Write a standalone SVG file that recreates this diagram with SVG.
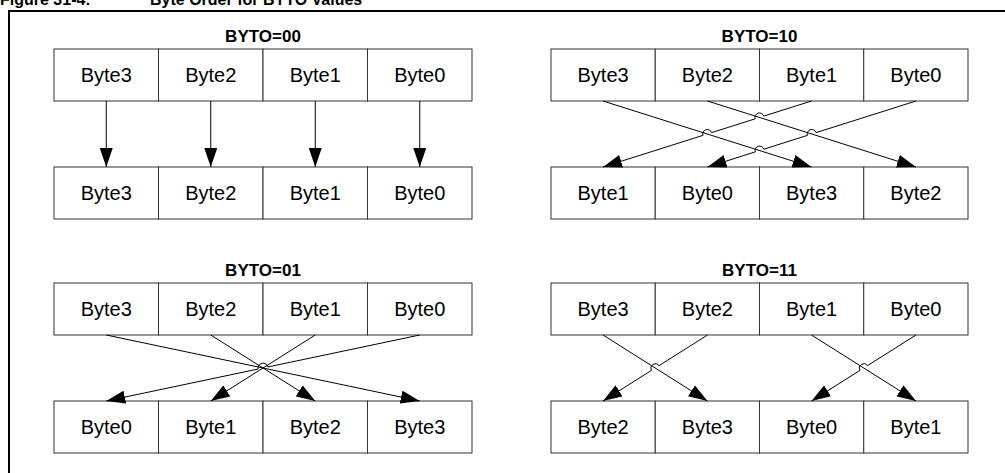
<svg xmlns="http://www.w3.org/2000/svg" width="1005" height="473" viewBox="0 0 1005 473">
<defs>
<style>
.box{fill:#fff;stroke:#333;stroke-width:1}
.bt{font-family:"Liberation Sans",Arial,sans-serif;font-size:20px;fill:#000;text-anchor:middle}
.lbl{font-family:"Liberation Sans",Arial,sans-serif;font-size:17px;font-weight:bold;fill:#000;text-anchor:middle}
.ttl{font-family:"Liberation Sans",Arial,sans-serif;font-size:16px;font-weight:bold;fill:#000}
.frame{fill:none;stroke:#000;stroke-width:2}
.con{fill:none;stroke:#000;stroke-width:1;marker-end:url(#ah)}
</style>
<marker id="ah" markerUnits="userSpaceOnUse" markerWidth="19" markerHeight="13" refX="19" refY="6.5" orient="auto">
<path d="M0,0 L19,6.5 L0,13 Z" fill="#000"/>
</marker>
</defs>
<rect width="1005" height="473" fill="#fff"/>
<text class="ttl" x="0" y="5">Figure 31-4:<tspan x="150">Byte Order for BYTO Values</tspan></text>
<path class="frame" d="M9,473 V11 H1005"/>

<text class="lbl" x="263" y="42">BYTO=00</text>
<text class="lbl" x="759.5" y="42">BYTO=10</text>
<text class="lbl" x="263" y="276">BYTO=01</text>
<text class="lbl" x="759.5" y="276">BYTO=11</text>

<!-- BYTO=00 -->
<g id="b00-t3"><rect class="box" x="54" y="49" width="104.5" height="52"/><text class="bt" x="106.25" y="82">Byte3</text></g>
<g id="b00-t2"><rect class="box" x="158.5" y="49" width="104.5" height="52"/><text class="bt" x="210.75" y="82">Byte2</text></g>
<g id="b00-t1"><rect class="box" x="263" y="49" width="104.5" height="52"/><text class="bt" x="315.25" y="82">Byte1</text></g>
<g id="b00-t0"><rect class="box" x="367.5" y="49" width="104.5" height="52"/><text class="bt" x="419.75" y="82">Byte0</text></g>
<g id="b00-b3"><rect class="box" x="54" y="167" width="104.5" height="52"/><text class="bt" x="106.25" y="200">Byte3</text></g>
<g id="b00-b2"><rect class="box" x="158.5" y="167" width="104.5" height="52"/><text class="bt" x="210.75" y="200">Byte2</text></g>
<g id="b00-b1"><rect class="box" x="263" y="167" width="104.5" height="52"/><text class="bt" x="315.25" y="200">Byte1</text></g>
<g id="b00-b0"><rect class="box" x="367.5" y="167" width="104.5" height="52"/><text class="bt" x="419.75" y="200">Byte0</text></g>

<!-- BYTO=10 -->
<g id="b10-t3"><rect class="box" x="551" y="49" width="104.25" height="52"/><text class="bt" x="603.1" y="82">Byte3</text></g>
<g id="b10-t2"><rect class="box" x="655.25" y="49" width="104.25" height="52"/><text class="bt" x="707.4" y="82">Byte2</text></g>
<g id="b10-t1"><rect class="box" x="759.5" y="49" width="104.25" height="52"/><text class="bt" x="811.6" y="82">Byte1</text></g>
<g id="b10-t0"><rect class="box" x="863.75" y="49" width="104.25" height="52"/><text class="bt" x="915.9" y="82">Byte0</text></g>
<g id="b10-b1"><rect class="box" x="551" y="167" width="104.25" height="52"/><text class="bt" x="603.1" y="200">Byte1</text></g>
<g id="b10-b0"><rect class="box" x="655.25" y="167" width="104.25" height="52"/><text class="bt" x="707.4" y="200">Byte0</text></g>
<g id="b10-b3"><rect class="box" x="759.5" y="167" width="104.25" height="52"/><text class="bt" x="811.6" y="200">Byte3</text></g>
<g id="b10-b2"><rect class="box" x="863.75" y="167" width="104.25" height="52"/><text class="bt" x="915.9" y="200">Byte2</text></g>

<!-- BYTO=01 -->
<g id="b01-t3"><rect class="box" x="54" y="283" width="104.5" height="52"/><text class="bt" x="106.25" y="316">Byte3</text></g>
<g id="b01-t2"><rect class="box" x="158.5" y="283" width="104.5" height="52"/><text class="bt" x="210.75" y="316">Byte2</text></g>
<g id="b01-t1"><rect class="box" x="263" y="283" width="104.5" height="52"/><text class="bt" x="315.25" y="316">Byte1</text></g>
<g id="b01-t0"><rect class="box" x="367.5" y="283" width="104.5" height="52"/><text class="bt" x="419.75" y="316">Byte0</text></g>
<g id="b01-b0"><rect class="box" x="54" y="401" width="104.5" height="52"/><text class="bt" x="106.25" y="434">Byte0</text></g>
<g id="b01-b1"><rect class="box" x="158.5" y="401" width="104.5" height="52"/><text class="bt" x="210.75" y="434">Byte1</text></g>
<g id="b01-b2"><rect class="box" x="263" y="401" width="104.5" height="52"/><text class="bt" x="315.25" y="434">Byte2</text></g>
<g id="b01-b3"><rect class="box" x="367.5" y="401" width="104.5" height="52"/><text class="bt" x="419.75" y="434">Byte3</text></g>

<!-- BYTO=11 -->
<g id="b11-t3"><rect class="box" x="551" y="283" width="104.25" height="52"/><text class="bt" x="603.1" y="316">Byte3</text></g>
<g id="b11-t2"><rect class="box" x="655.25" y="283" width="104.25" height="52"/><text class="bt" x="707.4" y="316">Byte2</text></g>
<g id="b11-t1"><rect class="box" x="759.5" y="283" width="104.25" height="52"/><text class="bt" x="811.6" y="316">Byte1</text></g>
<g id="b11-t0"><rect class="box" x="863.75" y="283" width="104.25" height="52"/><text class="bt" x="915.9" y="316">Byte0</text></g>
<g id="b11-b2"><rect class="box" x="551" y="401" width="104.25" height="52"/><text class="bt" x="603.1" y="434">Byte2</text></g>
<g id="b11-b3"><rect class="box" x="655.25" y="401" width="104.25" height="52"/><text class="bt" x="707.4" y="434">Byte3</text></g>
<g id="b11-b0"><rect class="box" x="759.5" y="401" width="104.25" height="52"/><text class="bt" x="811.6" y="434">Byte0</text></g>
<g id="b11-b1"><rect class="box" x="863.75" y="401" width="104.25" height="52"/><text class="bt" x="915.9" y="434">Byte1</text></g>

<g id="connectors">
<path class="con" d="M106.25,101 V167"/>
<path class="con" d="M210.75,101 V167"/>
<path class="con" d="M315.25,101 V167"/>
<path class="con" d="M419.75,101 V167"/>

<path class="con" d="M603,101 L811.5,167"/>
<path class="con" d="M707.5,101 L916,167"/>
<path class="con" d="M811.5,101 L763.79,116.1 A4.5,4.5 0 0 0 755.21,118.82 L711.54,132.64 A4.5,4.5 0 0 0 702.96,135.36 L603,167"/>
<path class="con" d="M916,101 L816.04,132.64 A4.5,4.5 0 0 0 807.46,135.36 L763.79,149.18 A4.5,4.5 0 0 0 755.21,151.9 L707.5,167"/>

<path class="con" d="M106.25,335 L419.75,401"/>
<path class="con" d="M210.75,335 L315.25,401"/>
<path class="con" d="M315.25,335 L210.75,401"/>
<path class="con" d="M419.75,335 L267.89,366.97 A5,5 0 0 0 258.11,369.03 L106.25,401"/>

<path class="con" d="M603,335 L707.5,401"/>
<path class="con" d="M707.5,335 L659.05,365.6 A4.5,4.5 0 0 0 651.45,370.4 L603,401"/>
<path class="con" d="M811.5,335 L916,401"/>
<path class="con" d="M916,335 L867.55,365.6 A4.5,4.5 0 0 0 859.95,370.4 L811.5,401"/>
</g>
</svg>
